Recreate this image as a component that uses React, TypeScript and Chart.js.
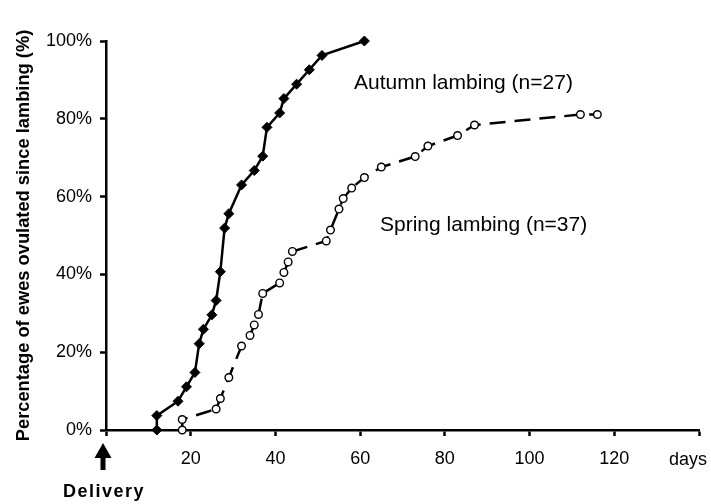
import React, { useEffect, useRef } from "react";
import { Chart, registerables } from "chart.js";

Chart.register(...registerables);

// Days since lambing and cumulative percentage of ewes ovulated
const autumnDays = [12, 12, 17, 19, 21, 22, 23, 25, 26, 27, 28, 29, 32, 35, 37, 38, 41, 42, 45, 48, 51, 61];
const autumnPct = [0, 3.7, 7.4, 11.1, 14.8, 22.2, 25.9, 29.6, 33.3, 40.7, 51.9, 55.6, 63.0, 66.7, 70.4, 77.8, 81.5, 85.2, 88.9, 92.6, 96.3, 100];

const springDays = [18, 18, 26, 27, 29, 32, 34, 35, 36, 37, 41, 42, 43, 44, 52, 53, 55, 56, 58, 61, 65, 73, 76, 83, 87, 112, 116];
const springPct = [0, 2.7, 5.4, 8.1, 13.5, 21.6, 24.3, 27.0, 29.7, 35.1, 37.8, 40.5, 43.2, 45.9, 48.6, 51.4, 56.8, 59.5, 62.2, 64.9, 67.6, 70.3, 73.0, 75.7, 78.4, 81.1, 81.1];

const seriesLabels = ["Autumn lambing (n=27)", "Spring lambing (n=37)"];
const yTitle = "Percentage of ewes ovulated since lambing (%)";
const xUnitLabel = "days";
const originLabel = "Delivery";

const FONT = "'Liberation Sans', Arial, Helvetica, sans-serif";

export default function App() {
  const ref = useRef<HTMLCanvasElement | null>(null);

  useEffect(() => {
    document.body.style.margin = "0";
    const canvas = ref.current;
    if (!canvas) return;

    const overlay = {
      id: "overlay",
      afterDraw(chart: any) {
        const ctx = chart.ctx as CanvasRenderingContext2D;
        const xs = chart.scales.x;
        const ys = chart.scales.y;
        ctx.save();
        ctx.fillStyle = "#000";
        // series annotations
        ctx.font = `21px ${FONT}`;
        ctx.textAlign = "left";
        ctx.textBaseline = "alphabetic";
        ctx.fillText(seriesLabels[0], 354, 89);
        ctx.fillText(seriesLabels[1], 380, 231);
        // "days" unit label
        ctx.font = `18px ${FONT}`;
        ctx.textAlign = "center";
        ctx.textBaseline = "middle";
        ctx.fillText(xUnitLabel, 688, 460);
        // arrow at origin
        const ox = xs.getPixelForValue(0) - 3;
        const oy = ys.getPixelForValue(0);
        ctx.beginPath();
        ctx.moveTo(ox, oy + 13);
        ctx.lineTo(ox + 8.5, oy + 28);
        ctx.lineTo(ox - 8.5, oy + 28);
        ctx.closePath();
        ctx.fill();
        ctx.fillRect(ox - 2.5, oy + 27, 5, 13);
        // Delivery label
        ctx.font = `bold 18px ${FONT}`;
        (ctx as any).letterSpacing = "1.5px";
        ctx.textAlign = "center";
        ctx.textBaseline = "middle";
        ctx.fillText(originLabel, ox + 1, oy + 62);
        ctx.restore();
      },
    };

    const chart = new Chart(canvas, {
      type: "scatter",
      data: {
        datasets: [
          {
            label: seriesLabels[0],
            data: autumnDays.map((d, i) => ({ x: d, y: autumnPct[i] })),
            showLine: true,
            borderColor: "#000",
            backgroundColor: "#000",
            borderWidth: 2.5,
            pointStyle: "rectRot",
            pointRadius: 5,
            pointBorderWidth: 1,
            pointBackgroundColor: "#000",
            pointBorderColor: "#000",
            tension: 0,
            clip: false as any,
          },
          {
            label: seriesLabels[1],
            data: springDays.map((d, i) => ({ x: d, y: springPct[i] })),
            showLine: true,
            borderColor: "#000",
            backgroundColor: "#fff",
            borderWidth: 2.5,
            borderDash: [16, 9],
            pointStyle: "circle",
            pointRadius: 3.8,
            pointBorderWidth: 1.4,
            pointBackgroundColor: "#fff",
            pointBorderColor: "#000",
            tension: 0,
            clip: false as any,
          },
        ],
      },
      options: {
        responsive: false,
        animation: false,
        devicePixelRatio: 1,
        layout: { padding: { top: 41, right: 11, left: 0, bottom: 0 } },
        plugins: { legend: { display: false }, tooltip: { enabled: false } },
        scales: {
          x: {
            type: "linear",
            min: 0,
            max: 140,
            ticks: {
              stepSize: 20,
              color: "#000",
              font: { family: FONT, size: 18 },
              padding: 12,
              maxRotation: 0,
              autoSkip: false,
              callback: (v: any) => (v === 0 || v === 140 ? "" : String(v)),
            },
            grid: {
              drawOnChartArea: false,
              drawTicks: true,
              tickLength: 6,
              tickWidth: 2.5,
              tickColor: "#000",
            },
            border: { display: true, color: "#000", width: 2.5 },
            afterFit: (s: any) => {
              s.height = 74;
            },
          },
          y: {
            type: "linear",
            position: "left",
            min: 0,
            max: 100,
            ticks: {
              stepSize: 20,
              color: "#000",
              font: { family: FONT, size: 18 },
              padding: 8,
              callback: (v: any) => `${v}%`,
            },
            grid: {
              drawOnChartArea: false,
              drawTicks: true,
              tickLength: 6,
              tickWidth: 2.5,
              tickColor: "#000",
            },
            border: { display: true, color: "#000", width: 2.5 },
            title: {
              display: true,
              text: yTitle,
              color: "#000",
              font: { family: FONT, size: 18.3, weight: "bold" },
              padding: { top: 13, bottom: 0 },
            },
            afterFit: (s: any) => {
              s.width = 106;
            },
          },
        },
      },
      plugins: [overlay],
    } as any);

    return () => chart.destroy();
  }, []);

  return (
    <div style={{ width: 711, height: 504 }}>
      <canvas ref={ref} width={711} height={504} style={{ display: "block" }} />
    </div>
  );
}
